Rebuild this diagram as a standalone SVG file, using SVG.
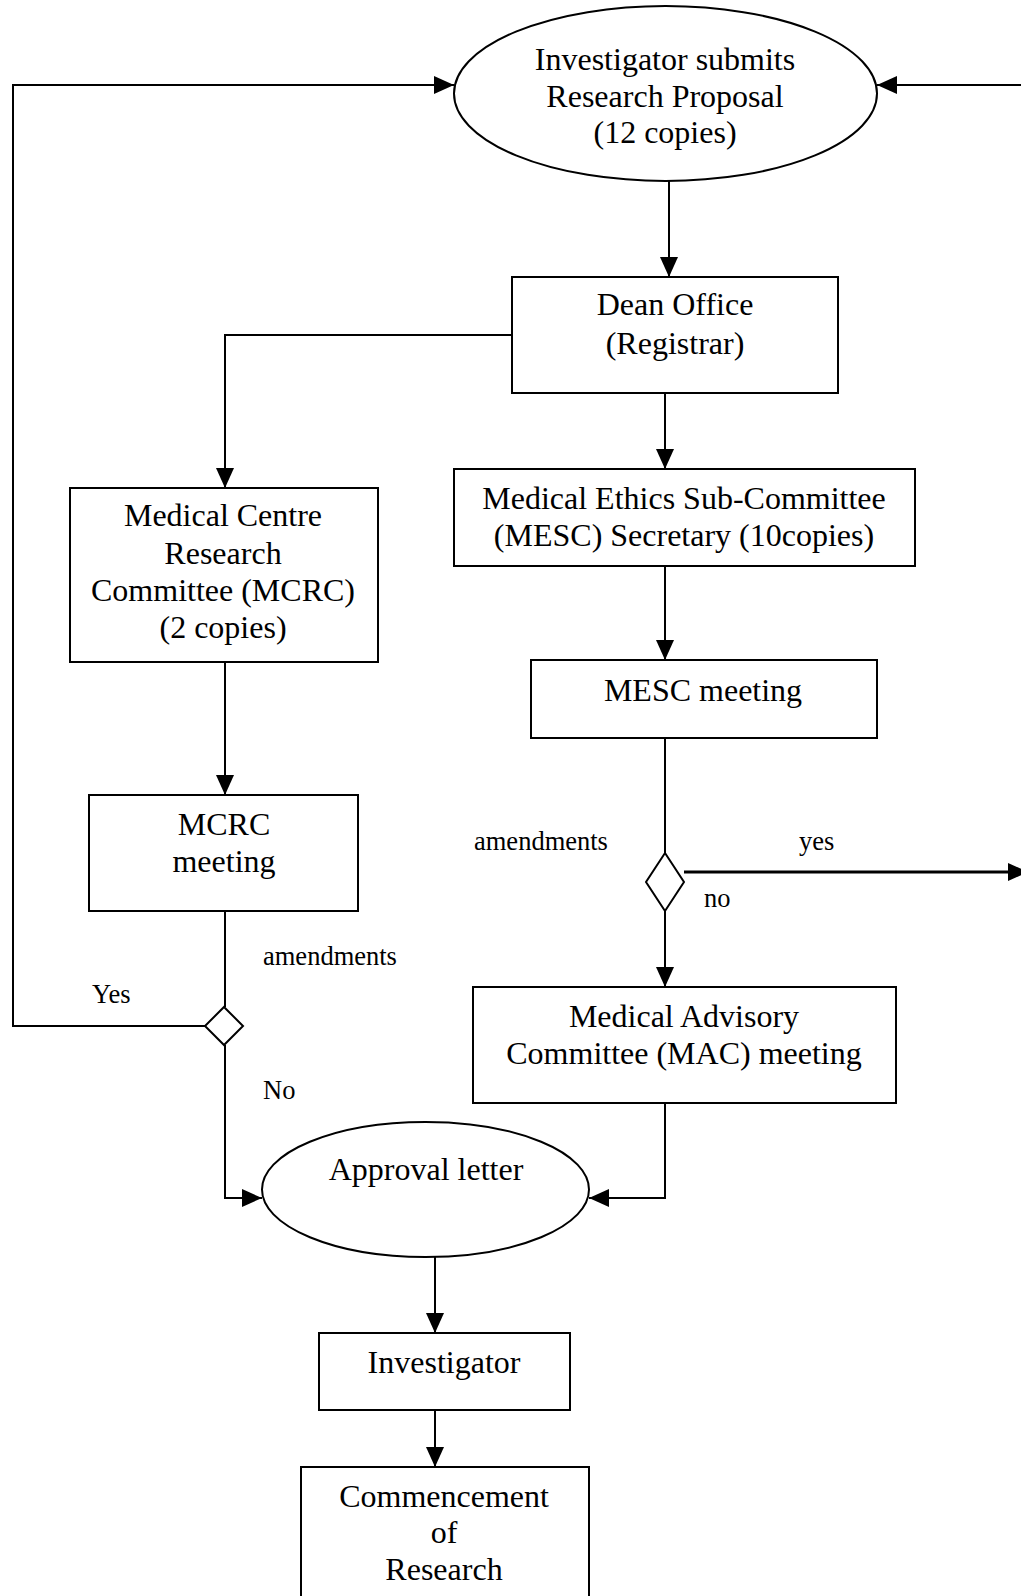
<svg xmlns="http://www.w3.org/2000/svg" width="1021" height="1596" viewBox="0 0 1021 1596">
  <style>
    .shape { fill: #ffffff; stroke: #000000; stroke-width: 2; }
    .link { fill: none; stroke: #000000; stroke-width: 2; }
    .label { font-family: "Liberation Serif", "Times New Roman", serif; font-size: 32px; fill: #000000; text-anchor: middle; }
    .note { font-family: "Liberation Serif", "Times New Roman", serif; font-size: 26.5px; fill: #000000; }
  </style>
  <defs>
    <marker id="arrow" markerUnits="userSpaceOnUse" markerWidth="21" markerHeight="19" refX="20" refY="9" orient="auto" viewBox="0 0 21 19">
      <path d="M0,0 L20,9 L0,18 Z" fill="#000000"/>
    </marker>
  </defs>
  <rect width="1021" height="1596" fill="#ffffff"/>

  <!-- connectors -->
  <g id="connectors">
    <line class="link" x1="669" y1="181" x2="669" y2="277" marker-end="url(#arrow)"/>
    <polyline class="link" points="512,335 225,335 225,488" marker-end="url(#arrow)"/>
    <line class="link" x1="665" y1="393" x2="665" y2="469" marker-end="url(#arrow)"/>
    <line class="link" x1="665" y1="566" x2="665" y2="660" marker-end="url(#arrow)"/>
    <line class="link" x1="225" y1="662" x2="225" y2="795" marker-end="url(#arrow)"/>
    <line class="link" x1="665" y1="738" x2="665" y2="853"/>
    <line class="link" x1="684" y1="872" x2="1028" y2="872" style="stroke-width:3" marker-end="url(#arrow)"/>
    <line class="link" x1="665" y1="911" x2="665" y2="987" marker-end="url(#arrow)"/>
    <line class="link" x1="225" y1="911" x2="225" y2="1007"/>
    <polyline class="link" points="205,1026 13,1026 13,85 454,85" marker-end="url(#arrow)"/>
    <line class="link" x1="1021" y1="85" x2="877" y2="85" marker-end="url(#arrow)"/>
    <polyline class="link" points="225,1045 225,1198 262,1198" marker-end="url(#arrow)"/>
    <polyline class="link" points="665,1103 665,1198 589,1198" marker-end="url(#arrow)"/>
    <line class="link" x1="435" y1="1257" x2="435" y2="1333" marker-end="url(#arrow)"/>
    <line class="link" x1="435" y1="1410" x2="435" y2="1467" marker-end="url(#arrow)"/>
  </g>

  <!-- connector labels -->
  <g id="labels">
    <text class="note" x="474" y="850">amendments</text>
    <text class="note" x="799" y="850">yes</text>
    <text class="note" x="704" y="907">no</text>
    <text class="note" x="263" y="965">amendments</text>
    <text class="note" x="92" y="1003">Yes</text>
    <text class="note" x="263" y="1099">No</text>
  </g>

  <g id="submit">
    <ellipse class="shape" cx="665.5" cy="93.5" rx="211.5" ry="87.5"/>
    <text class="label" x="665" y="70">Investigator submits</text>
    <text class="label" x="665" y="107">Research Proposal</text>
    <text class="label" x="665" y="143">(12 copies)</text>
  </g>

  <g id="dean">
    <rect class="shape" x="512" y="277" width="326" height="116"/>
    <text class="label" x="675" y="315">Dean Office</text>
    <text class="label" x="675" y="354">(Registrar)</text>
  </g>

  <g id="mcrc">
    <rect class="shape" x="70" y="488" width="308" height="174"/>
    <text class="label" x="223" y="526">Medical Centre</text>
    <text class="label" x="223" y="564">Research</text>
    <text class="label" x="223" y="601">Committee (MCRC)</text>
    <text class="label" x="223" y="638">(2 copies)</text>
  </g>

  <g id="mesc-secretary">
    <rect class="shape" x="454" y="469" width="461" height="97"/>
    <text class="label" x="684" y="509">Medical Ethics Sub-Committee</text>
    <text class="label" x="684" y="546">(MESC) Secretary (10copies)</text>
  </g>

  <g id="mesc-meeting">
    <rect class="shape" x="531" y="660" width="346" height="78"/>
    <text class="label" x="703" y="701">MESC meeting</text>
  </g>

  <g id="mcrc-meeting">
    <rect class="shape" x="89" y="795" width="269" height="116"/>
    <text class="label" x="224" y="835">MCRC</text>
    <text class="label" x="224" y="872">meeting</text>
  </g>

  <g id="mesc-decision">
    <polygon class="shape" points="665,853 684,882 665,911 646,882"/>
  </g>

  <g id="mcrc-decision">
    <polygon class="shape" points="224,1007 243,1026 224,1045 205,1026"/>
  </g>

  <g id="mac">
    <rect class="shape" x="473" y="987" width="423" height="116"/>
    <text class="label" x="684" y="1027">Medical Advisory</text>
    <text class="label" x="684" y="1064">Committee (MAC) meeting</text>
  </g>

  <g id="approval">
    <ellipse class="shape" cx="425.5" cy="1189.5" rx="163.5" ry="67.5"/>
    <text class="label" x="426" y="1180">Approval letter</text>
  </g>

  <g id="investigator">
    <rect class="shape" x="319" y="1333" width="251" height="77"/>
    <text class="label" x="444" y="1373">Investigator</text>
  </g>

  <g id="commencement">
    <rect class="shape" x="301" y="1467" width="288" height="140"/>
    <text class="label" x="444" y="1507">Commencement</text>
    <text class="label" x="444" y="1543">of</text>
    <text class="label" x="444" y="1580">Research</text>
  </g>
</svg>
